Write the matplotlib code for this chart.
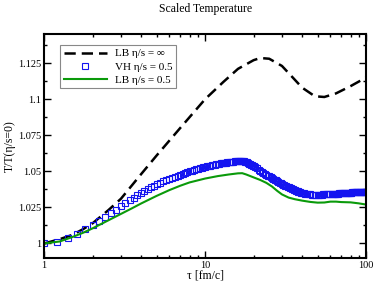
import numpy as np
import matplotlib
matplotlib.use("Agg")
import matplotlib.pyplot as plt
from matplotlib.ticker import FixedLocator, NullFormatter

plt.rcParams['font.family'] = ['Liberation Serif', 'DejaVu Serif']

# LB eta/s = infinity (dashed)
tau_inf = [1.0, 1.25, 1.5, 1.75, 2.0, 2.5, 3.0, 4.0, 5.0, 7.0, 10, 13, 16, 20, 22, 25,
           30, 35, 40, 48, 55, 65, 80, 100]
T_inf = [1.000, 1.003, 1.006, 1.010, 1.014, 1.023, 1.031, 1.048, 1.061, 1.080, 1.100,
         1.112, 1.121, 1.127, 1.1285, 1.128, 1.123, 1.115, 1.108, 1.102, 1.1015, 1.104,
         1.109, 1.115]

# VH eta/s = 0.5 (squares), sampled on the simulation's regular time grid
tau_vh = np.concatenate([
    np.arange(1.0, 4.81, 0.2),      # 20 points
    np.arange(5.0, 19.76, 0.25),    # 60 points
    np.arange(20.0, 39.51, 0.5),    # 40 points
    np.arange(40.0, 100.1, 1.0),    # 61 points
])
T_vh_a = [1.0000, 1.0012, 1.0038, 1.0068, 1.0098, 1.0127, 1.0155, 1.0183, 1.0210, 1.0235,
          1.0258, 1.0280, 1.0300, 1.0318, 1.0335, 1.0350, 1.0364, 1.0377, 1.0389, 1.0400]
T_vh_b = [1.0410, 1.0420, 1.0430, 1.0439, 1.0448, 1.0456, 1.0463, 1.0470, 1.0477, 1.0483,
          1.0489, 1.0495, 1.0500, 1.0505, 1.0509, 1.0513, 1.0517, 1.0521, 1.0524, 1.0528,
          1.0531, 1.0534, 1.0537, 1.0540, 1.0542, 1.0545, 1.0547, 1.0549, 1.0551, 1.0553,
          1.0555, 1.0557, 1.0558, 1.0560, 1.0561, 1.0563, 1.0564, 1.0565, 1.0566, 1.0567,
          1.0568, 1.0569, 1.0570, 1.0571, 1.0571, 1.0572, 1.0572, 1.0572, 1.0572, 1.0571,
          1.0570, 1.0568, 1.0565, 1.0562, 1.0558, 1.0554, 1.0550, 1.0546, 1.0542, 1.0538]
T_vh_c = [1.0534, 1.0527, 1.0520, 1.0512, 1.0505, 1.0498, 1.0491, 1.0484, 1.0477, 1.0471,
          1.0465, 1.0459, 1.0453, 1.0448, 1.0442, 1.0437, 1.0432, 1.0427, 1.0422, 1.0417,
          1.0412, 1.0408, 1.0403, 1.0399, 1.0395, 1.0391, 1.0388, 1.0384, 1.0381, 1.0378,
          1.0375, 1.0372, 1.0369, 1.0366, 1.0364, 1.0361, 1.0359, 1.0357, 1.0355, 1.0353]
T_vh_d = [1.0351, 1.0348, 1.0345, 1.0343, 1.0341, 1.0340, 1.0339, 1.0338, 1.0338, 1.0338,
          1.0338, 1.0338, 1.0339, 1.0339, 1.0340, 1.0340, 1.0341, 1.0341, 1.0342, 1.0342,
          1.0343, 1.0343, 1.0344, 1.0344, 1.0345, 1.0345, 1.0346, 1.0346, 1.0347, 1.0347,
          1.0348, 1.0348, 1.0349, 1.0349, 1.0350, 1.0350, 1.0351, 1.0351, 1.0352, 1.0352,
          1.0353, 1.0353, 1.0354, 1.0354, 1.0355, 1.0355, 1.0355, 1.0355, 1.0356, 1.0356,
          1.0356, 1.0356, 1.0357, 1.0357, 1.0357, 1.0357, 1.0358, 1.0358, 1.0358, 1.0358,
          1.0358]
T_vh = T_vh_a + T_vh_b + T_vh_c + T_vh_d

# LB eta/s = 0.5 (green)
tau_lb = [1.0, 1.25, 1.5, 1.75, 2.0, 2.5, 3.0, 3.5, 4.0, 5.0, 6.0, 7.0, 8.0, 10, 12, 14,
          16, 17, 18, 20, 22, 24, 26, 28, 30, 33, 36, 40, 45, 50, 55, 60, 65, 70, 80, 90, 97]
T_lb = [1.0000, 1.0014, 1.0045, 1.0075, 1.0105, 1.0160, 1.0205, 1.0243, 1.0277, 1.0330,
        1.0370, 1.0400, 1.0423, 1.0450, 1.0467, 1.0478, 1.0486, 1.0487, 1.0478, 1.0458,
        1.0440, 1.0420, 1.0395, 1.0365, 1.0340, 1.0318, 1.0307, 1.0297, 1.0288, 1.0283,
        1.0284, 1.0290, 1.0290, 1.0287, 1.0285, 1.0278, 1.0272]

ytick_vals = [1.0, 1.025, 1.05, 1.075, 1.1, 1.125]
ytick_labels = ['1', '1.025', '1.05', '1.075', '1.1', '1.125']
xtick_vals = [1, 10, 100]
xtick_labels = ['1', '10', '100']

fig = plt.figure(figsize=(3.74, 2.85), dpi=100)
ax = fig.add_axes([0.118, 0.095, 0.861, 0.785])

ax.plot(tau_inf, T_inf, color='black', lw=1.8, dashes=(4.5, 2.4),
        label='LB η/s = ∞')
ax.plot(tau_vh, T_vh, linestyle='none', marker='s', ms=4.6, mfc='none', mec='#1414f0',
        mew=0.8, label='VH η/s = 0.5')
ax.plot(tau_lb, T_lb, color='#0a9a0a', lw=1.5, label='LB η/s = 0.5')

ax.set_xscale('log')
ax.set_xlim(1, 100)
ax.set_ylim(0.99, 1.145)

ax.xaxis.set_major_locator(FixedLocator(xtick_vals))
ax.set_xticklabels(xtick_labels)
ax.xaxis.set_minor_locator(FixedLocator([2, 3, 4, 5, 6, 7, 8, 9, 20, 30, 40, 50, 60, 70, 80, 90]))
ax.xaxis.set_minor_formatter(NullFormatter())
ax.yaxis.set_major_locator(FixedLocator(ytick_vals))
ax.set_yticklabels(ytick_labels)
ax.yaxis.set_minor_locator(FixedLocator([0.9875 + 0.025 * i for i in range(7)]))

ax.tick_params(which='both', direction='in', top=True, right=True, labelsize=7.5, width=1.0)
ax.tick_params(which='major', length=5, pad=2)
ax.tick_params(which='minor', length=2.5)
for s in ax.spines.values():
    s.set_linewidth(1.5)

ax.set_xlabel('τ [fm/c]', fontsize=8.5, labelpad=0)
ax.set_ylabel('T/T(η/s=0)', fontsize=8.5, labelpad=2)
ax.set_title('Scaled Temperature', fontsize=8.5, pad=16)

leg = ax.legend(loc='upper left', bbox_to_anchor=(0.05, 0.95), fontsize=8,
                frameon=True, fancybox=False, edgecolor='#888888', framealpha=1,
                handlelength=3.9, handletextpad=0.7, borderpad=0.3, labelspacing=0.3,
                borderaxespad=0, numpoints=1)
leg.get_frame().set_linewidth(0.8)

fig.savefig('out.png', dpi=100)
